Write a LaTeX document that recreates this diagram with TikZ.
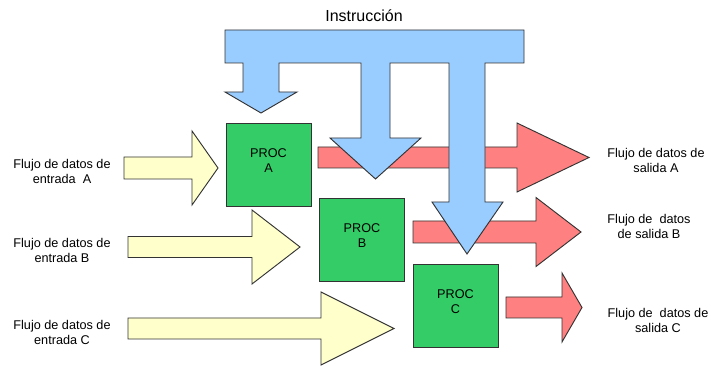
\documentclass[tikz,border=0pt]{standalone}
\usepackage{fontspec}
\setmainfont{Liberation Sans}
\definecolor{instrblue}{HTML}{99CCFF}
\definecolor{procgreen}{HTML}{33CC66}
\definecolor{inyellow}{HTML}{FFFFCC}
\definecolor{outred}{HTML}{FF8080}
\definecolor{edgegray}{HTML}{333333}
\begin{document}
\begin{tikzpicture}[
      x=0.75pt, y=-0.75pt,
      block/.style={draw=edgegray, line width=0.7pt, line join=miter},
      proc/.style={block, fill=procgreen, minimum width=63.75pt,
                   minimum height=62.25pt, inner sep=0pt},
      proctext/.style={font=\fontsize{9.5}{11}\selectfont, align=center,
                       yshift=3pt, inner sep=0pt},
      flowlabel/.style={font=\fontsize{9.5}{11.25}\selectfont, align=center,
                        inner sep=0pt}
    ]
      \useasboundingbox (0,0) rectangle (711,366);
      % Input and output data streams
      \foreach \xs/\xh/\xt/\yc/\sh/\hh/\col in {
          124/192/218/168/11/37/inyellow,
          128/252/300/247/10.5/37/inyellow,
          128/321/394/328.5/10.5/36.5/inyellow,
          318/517/589/157.5/10.5/34.5/outred,
          413/536/581/232/11/34.5/outred,
          506/562/582/307.5/10.5/34.5/outred} {
        \draw[block, fill=\col] (\xs,\yc-\sh) -- (\xh,\yc-\sh) -- (\xh,\yc-\hh)
          -- (\xt,\yc) -- (\xh,\yc+\hh) -- (\xh,\yc+\sh) -- (\xs,\yc+\sh) -- cycle;
      }
      % Instruction stream
      \draw[block, fill=instrblue] (225,30) -- (524,30) -- (524,63) -- (485,63)
        -- (485,202) -- (503,202) -- (467,254) -- (432,202) -- (449,202)
        -- (449,63) -- (390,63) -- (390,138) -- (421,138) -- (375.5,179)
        -- (330,138) -- (361,138) -- (361,63) -- (279,63) -- (279,92)
        -- (297,92) -- (261,113) -- (225,92) -- (243,92) -- (243,63)
        -- (225,63) -- cycle;
      \node[font=\fontsize{12}{14}\selectfont] (instr) at (364,16) {Instrucción};

      \node[proc, label={[proctext]center:PROC\\A}] (procA) at (268.5,164.5) {};
      \node[proc, label={[proctext]center:PROC\\B}] (procB) at (362,239.5) {};
      \node[proc, label={[proctext]center:PROC\\C}] (procC) at (455.5,305.5) {};

      \node[flowlabel] (inA) at (62,171) {Flujo de datos de\\entrada\ \ A};
      \node[flowlabel] (inB) at (62,250) {Flujo de datos de\\entrada B};
      \node[flowlabel] (inC) at (62,332) {Flujo de datos de\\entrada C};
      \node[flowlabel] (outA) at (656,160.5) {Flujo de datos de\\salida A};
      \node[flowlabel] (outB) at (649,226.5) {Flujo de\ \ datos\\de salida B};
      \node[flowlabel] (outC) at (658,320.5) {Flujo de\ \ datos de\\salida C};
    \end{tikzpicture}
\end{document}
